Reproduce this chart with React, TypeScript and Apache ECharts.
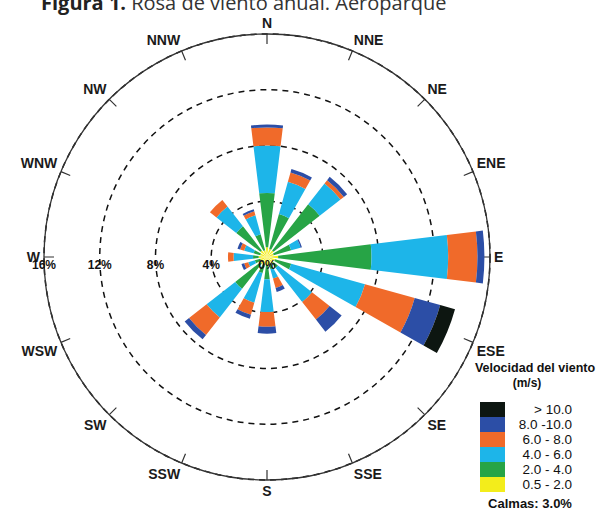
import React, { useEffect, useRef } from 'react';
import * as echarts from 'echarts';

const directions = ['N', 'NNE', 'NE', 'ENE', 'E', 'ESE', 'SE', 'SSE', 'S', 'SSW', 'SW', 'WSW', 'W', 'WNW', 'NW', 'NNW'];
const speedClasses = ['0.5 - 2.0', '2.0 - 4.0', '4.0 - 6.0', '6.0 - 8.0', '8.0 -10.0', '> 10.0'];
const classColors = ['#f3ed1b', '#27a446', '#1db5e9', '#f06a2a', '#2c4ea6', '#0d1611'];

// frequency (%) per direction for each wind-speed class
const freq05to2 = [0.7, 0.6, 0.6, 0.5, 0.8, 0.6, 0.6, 0.5, 0.6, 0.5, 0.6, 0.5, 0.6, 0.5, 0.6, 0.5];
const freq2to4 = [3.9, 2.6, 4.2, 1.3, 6.7, 1.2, 0.4, 0.4, 1.0, 0.7, 2.3, 0.4, 0.4, 0.5, 2.2, 1.2];
const freq4to6 = [3.4, 2.4, 1.9, 0.7, 5.5, 5.5, 3.1, 0.7, 2.35, 2.2, 2.6, 0.5, 1.4, 0.7, 1.8, 1.4];
const freq6to8 = [1.3, 0.7, 0.3, 0.0, 2.1, 3.7, 1.6, 0.7, 1.05, 0.9, 1.6, 0.3, 0.4, 0.3, 0.6, 0.3];
const freq8to10 = [0.2, 0.25, 0.3, 0.1, 0.5, 1.9, 1.1, 0.3, 0.5, 0.3, 0.4, 0.2, 0.0, 0.2, 0.0, 0.15];
const freqOver10 = [0, 0, 0, 0, 0, 1.1, 0, 0, 0, 0, 0, 0, 0, 0, 0, 0];
const seriesValues = [freq05to2, freq2to4, freq4to6, freq6to8, freq8to10, freqOver10];

const radiusMax = 16;
const radiusStep = 4;

const titleBold = 'Figura 1.';
const titleRest = ' Rosa de viento anual. Aeroparque';
const legendTitle = 'Velocidad del viento';
const legendUnit = '(m/s)';
const calmText = 'Calmas: 3.0%';

export default function App() {
  const ref = useRef<HTMLDivElement>(null);
  useEffect(() => {
    if (!ref.current) return;
    const chart = echarts.init(ref.current, undefined, { renderer: 'svg' });
    const font = 'Liberation Sans';
    const center = [267, 257];
    const radius = 223;
    chart.setOption({
      animation: false,
      backgroundColor: '#ffffff',
      title: {
        text: '{b|' + titleBold + '}' + titleRest,
        left: 36,
        top: -13,
        textStyle: {
          fontFamily: 'Open Sans',
          fontSize: 20,
          fontWeight: 'normal',
          color: '#333',
          rich: { b: { fontFamily: 'Open Sans', fontSize: 20, fontWeight: 'bold', color: '#222' } },
        },
      },
      polar: [
        { center, radius },
        { center, radius },
      ],
      angleAxis: [
        {
          polarIndex: 0,
          type: 'category',
          data: directions,
          startAngle: 90 + 360 / directions.length / 2,
          clockwise: true,
          boundaryGap: true,
          axisLine: { show: true, lineStyle: { color: '#333', width: 1.3 } },
          axisTick: { show: true, alignWithLabel: true, inside: true, length: 10, lineStyle: { color: '#333', width: 1.2 } },
          axisLabel: { margin: 4, fontSize: 14, fontWeight: 'bold', color: '#1a1a1a', fontFamily: font },
          splitLine: { show: false },
          z: 1,
        },
        {
          polarIndex: 1,
          type: 'value',
          min: 0,
          max: 360,
          startAngle: 180,
          show: false,
        },
      ],
      radiusAxis: [
        {
          polarIndex: 0,
          type: 'value',
          min: 0,
          max: radiusMax,
          interval: radiusStep,
          axisLine: { show: false },
          axisTick: { show: false },
          axisLabel: { show: false },
          splitLine: { show: true, lineStyle: { type: [6, 5], color: '#111', width: 1.5 } },
        },
        {
          polarIndex: 1,
          type: 'value',
          min: 0,
          max: radiusMax,
          interval: radiusStep,
          axisLine: { show: false },
          axisTick: { show: false },
          splitLine: { show: false },
          axisLabel: {
            formatter: '{value}%',
            fontSize: 12,
            fontWeight: 'bold',
            color: '#111',
            fontFamily: font,
            margin: 2,
          },
          z: 10,
        },
      ],
      legend: {
        data: [...speedClasses].reverse(),
        orient: 'vertical',
        left: 475,
        top: 397,
        itemWidth: 25,
        itemHeight: 15,
        itemGap: 0,
        icon: 'rect',
        selectedMode: false,
        formatter: '{a|{name}}',
        textStyle: {
          fontSize: 13.5,
          color: '#111',
          fontFamily: font,
          rich: { a: { width: 62, align: 'right', fontSize: 13.5, lineHeight: 15.5, fontFamily: font, color: '#111' } },
        },
      },
      graphic: [
        {
          type: 'text',
          x: 535,
          y: 368,
          style: { text: legendTitle, fontSize: 12.5, fontWeight: 'bold', fill: '#111', fontFamily: font, textAlign: 'center', textVerticalAlign: 'middle' },
        },
        {
          type: 'text',
          x: 527,
          y: 383,
          style: { text: legendUnit, fontSize: 12, fontWeight: 'bold', fill: '#111', fontFamily: font, textAlign: 'center', textVerticalAlign: 'middle' },
        },
        {
          type: 'text',
          x: 530,
          y: 503,
          style: { text: calmText, fontSize: 13, fontWeight: 'bold', fill: '#111', fontFamily: font, textAlign: 'center', textVerticalAlign: 'middle' },
        },
      ],
      series: speedClasses.map((name, i) => ({
        name,
        type: 'bar',
        coordinateSystem: 'polar',
        polarIndex: 0,
        stack: 'rose',
        data: seriesValues[i],
        barCategoryGap: '38%',
        itemStyle: { color: classColors[i] },
        z: 2,
      })),
    });
    return () => chart.dispose();
  }, []);
  return <div ref={ref} style={{ position: 'fixed', left: 0, top: 0, width: 597, height: 512 }} />;
}
